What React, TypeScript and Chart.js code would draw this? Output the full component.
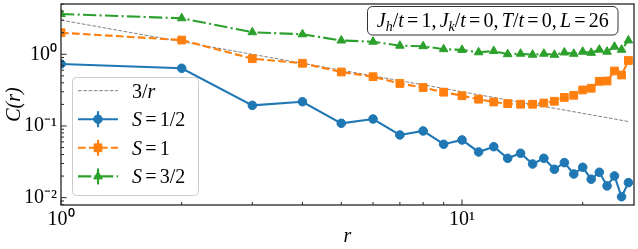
import React, { useEffect, useRef } from 'react';
import { Chart, registerables } from 'chart.js';

Chart.register(...registerables);

const FONT = "'Liberation Serif', 'Times New Roman', serif";

// distance r
const rValues = [1, 2, 3, 4, 5, 6, 7, 8, 9, 10, 11, 12, 13, 14, 15, 16, 17, 18, 19, 20, 21, 22, 23, 24, 25, 26];
// C(r) for S = 1/2
const spinHalf = [0.732, 0.638, 0.194, 0.218, 0.109, 0.125, 0.0749, 0.0852, 0.0556, 0.0638, 0.0434, 0.0514, 0.0354, 0.0416, 0.0295, 0.0354, 0.0249, 0.0308, 0.0214, 0.0265, 0.0181, 0.0226, 0.0146, 0.0201, 0.0103, 0.0162];
// C(r) for S = 1
const spinOne = [2.0, 1.58, 0.868, 0.749, 0.566, 0.487, 0.392, 0.344, 0.296, 0.264, 0.2365, 0.216, 0.205, 0.201, 0.201, 0.209, 0.221, 0.25, 0.268, 0.318, 0.336, 0.42, 0.424, 0.585, 0.514, 0.819];
// C(r) for S = 3/2
const spinThreeHalves = [3.65, 3.18, 2.03, 1.9, 1.557, 1.499, 1.318, 1.297, 1.178, 1.152, 1.066, 1.112, 1.003, 1.019, 0.987, 1.019, 0.984, 1.06, 1.016, 1.087, 1.049, 1.159, 1.087, 1.276, 1.159, 1.562];
// reference power law 3/r (straight line on log-log axes)
const refR = [1, 26];
const refC = [3, 0.1154];

const seriesLabels = ['S = 1/2', 'S = 1', 'S = 3/2'];
const refLabel = '3/r';
const annotationText = 'J_h/t = 1, J_k/t = 0, T/t = 0, L = 26';
const xTitle = 'r';
const yTitle = 'C(r)';

const xTickValues = [1, 2, 3, 4, 5, 6, 7, 8, 9, 10, 20];
const yTickValues = [0.008, 0.009, 0.01, 0.02, 0.03, 0.04, 0.05, 0.06, 0.07, 0.08, 0.09, 0.1, 0.2, 0.3, 0.4, 0.5, 0.6, 0.7, 0.8, 0.9, 1, 2, 3, 4, 5];

const X_MIN = 1;
const X_MAX = 26.85;
const Y_MIN = 0.0079;
const Y_MAX = 5.03;

const SUP: Record<string, string> = {
  '0': '\u2070', '1': '\u00B9', '2': '\u00B2', '3': '\u00B3', '4': '\u2074',
  '5': '\u2075', '6': '\u2076', '7': '\u2077', '8': '\u2078', '9': '\u2079', '-': '\u207B',
};

function isDecade(v: number) {
  const l = Math.log10(v);
  return Math.abs(l - Math.round(l)) < 1e-6;
}
function decadeLabel(v: number) {
  const e = Math.round(Math.log10(v));
  return '10' + String(e).split('').map((c) => SUP[c]).join('');
}

function drawMath(ctx: CanvasRenderingContext2D, text: string, x: number, y: number, size: number, draw = true): number {
  let cx = x;
  for (let i = 0; i < text.length; i++) {
    let c = text[i];
    if (c === ' ') {
      cx += size * 0.16;
      continue;
    }
    let sub = false;
    if (c === '_') {
      sub = true;
      c = text[++i];
    }
    const italic = /[A-Za-z]/.test(c);
    const fs = sub ? size * 0.7 : size;
    ctx.font = `${italic ? 'italic ' : ''}${fs}px ${FONT}`;
    const w = ctx.measureText(c).width;
    if (draw) ctx.fillText(c, cx, sub ? y + size * 0.22 : y);
    cx += w;
  }
  return cx - x;
}

function drawMarker(ctx: CanvasRenderingContext2D, style: string, r: number, x: number, y: number) {
  ctx.beginPath();
  if (style === 'circle') {
    ctx.arc(x, y, r, 0, Math.PI * 2);
  } else if (style === 'rect') {
    const s = Math.SQRT1_2 * r;
    ctx.rect(x - s, y - s, 2 * s, 2 * s);
  } else if (style === 'triangle') {
    ctx.moveTo(x, y - r);
    ctx.lineTo(x + r * Math.sin(Math.PI / 3), y + r / 2);
    ctx.lineTo(x - r * Math.sin(Math.PI / 3), y + r / 2);
    ctx.closePath();
  }
  ctx.fill();
  ctx.stroke();
}

const frameTicksPlugin = {
  id: 'frameTicks',
  afterDatasetsDraw(chart: any) {
    const { ctx, chartArea: a, scales } = chart;
    ctx.save();
    ctx.strokeStyle = '#262626';
    ctx.lineWidth = 1;
    const xs = scales.x;
    for (const t of xs.ticks) {
      const px = xs.getPixelForValue(t.value);
      if (px < a.left - 0.5 || px > a.right + 0.5) continue;
      const len = isDecade(t.value) ? 5.5 : 3;
      ctx.beginPath();
      ctx.moveTo(px, a.bottom);
      ctx.lineTo(px, a.bottom - len);
      ctx.stroke();
    }
    const ys = scales.y;
    for (const t of ys.ticks) {
      const py = ys.getPixelForValue(t.value);
      if (py < a.top - 0.5 || py > a.bottom + 0.5) continue;
      const len = isDecade(t.value) ? 5.5 : 3;
      ctx.beginPath();
      ctx.moveTo(a.left, py);
      ctx.lineTo(a.left + len, py);
      ctx.stroke();
    }
    ctx.lineWidth = 1.3;
    ctx.strokeRect(a.left, a.top, a.right - a.left, a.bottom - a.top);
    ctx.restore();
  },
};

function roundRect(ctx: CanvasRenderingContext2D, x: number, y: number, w: number, h: number, r: number) {
  ctx.beginPath();
  ctx.moveTo(x + r, y);
  ctx.lineTo(x + w - r, y);
  ctx.arcTo(x + w, y, x + w, y + r, r);
  ctx.lineTo(x + w, y + h - r);
  ctx.arcTo(x + w, y + h, x + w - r, y + h, r);
  ctx.lineTo(x + r, y + h);
  ctx.arcTo(x, y + h, x, y + h - r, r);
  ctx.lineTo(x, y + r);
  ctx.arcTo(x, y, x + r, y, r);
  ctx.closePath();
}

const legendPlugin = {
  id: 'mplLegend',
  afterDraw(chart: any) {
    const { ctx } = chart;
    const size = 20;
    ctx.save();
    roundRect(ctx, 72.5, 77.5, 126, 118, 4);
    ctx.fillStyle = 'rgba(255,255,255,0.8)';
    ctx.fill();
    ctx.strokeStyle = '#cccccc';
    ctx.lineWidth = 1;
    ctx.stroke();

    const rowY = [90.7, 119.2, 147.8, 176.4];
    [0, 1, 2, 3].forEach((di, k) => {
      const ds = chart.data.datasets[di];
      const y = rowY[k];
      ctx.save();
      ctx.strokeStyle = ds.borderColor;
      ctx.lineWidth = ds.borderWidth;
      ctx.setLineDash(ds.borderDash || []);
      ctx.beginPath();
      ctx.moveTo(78, y);
      ctx.lineTo(118, y);
      ctx.stroke();
      ctx.setLineDash([]);
      if (ds.pointRadius > 0) {
        ctx.beginPath();
        ctx.moveTo(98, y - 8);
        ctx.lineTo(98, y + 8);
        ctx.stroke();
        ctx.fillStyle = ds.pointBackgroundColor;
        ctx.strokeStyle = ds.pointBorderColor;
        ctx.lineWidth = 1;
        drawMarker(ctx, ds.pointStyle, ds.pointRadius, 98, y);
      }
      ctx.restore();
      ctx.fillStyle = '#000';
      ctx.textBaseline = 'alphabetic';
      drawMath(ctx, ds.label, 132, y + 6.8, size);
    });
    ctx.restore();
  },
};

const annotationPlugin = {
  id: 'mplAnnotation',
  afterDraw(chart: any) {
    const { ctx } = chart;
    const size = 20;
    ctx.save();
    roundRect(ctx, 367.5, 6.5, 250.5, 28.5, 5);
    ctx.fillStyle = '#ffffff';
    ctx.fill();
    ctx.strokeStyle = '#333333';
    ctx.lineWidth = 1;
    ctx.stroke();
    ctx.fillStyle = '#000';
    ctx.textBaseline = 'alphabetic';
    const w = drawMath(ctx, annotationText, 0, 0, size, false);
    drawMath(ctx, annotationText, 367.5 + (250.5 - w) / 2, 27, size);
    ctx.restore();
  },
};

export default function App() {
  const canvasRef = useRef<HTMLCanvasElement | null>(null);

  useEffect(() => {
    const canvas = canvasRef.current;
    if (!canvas) return;
    const toXY = (xs: number[], ys: number[]) => xs.map((x, i) => ({ x, y: ys[i] }));
    const chart = new Chart(canvas, {
      type: 'line',
      data: {
        datasets: [
          {
            label: refLabel,
            data: toXY(refR, refC),
            borderColor: '#808080',
            borderWidth: 1,
            borderDash: [3.7, 1.6],
            pointRadius: 0,
            order: 4,
          },
          {
            label: seriesLabels[0],
            data: toXY(rValues, spinHalf),
            borderColor: '#1f77b4',
            backgroundColor: '#1f77b4',
            pointBackgroundColor: '#1f77b4',
            pointBorderColor: '#1f77b4',
            borderWidth: 2.1,
            pointStyle: 'circle',
            pointRadius: 4.3,
            pointBorderWidth: 1,
            order: 3,
          },
          {
            label: seriesLabels[1],
            data: toXY(rValues, spinOne),
            borderColor: '#ff7f0e',
            backgroundColor: '#ff7f0e',
            pointBackgroundColor: '#ff7f0e',
            pointBorderColor: '#ff7f0e',
            borderWidth: 2.1,
            borderDash: [7.7, 3.3],
            pointStyle: 'rect',
            pointRadius: 5.5,
            pointBorderWidth: 1,
            order: 2,
          },
          {
            label: seriesLabels[2],
            data: toXY(rValues, spinThreeHalves),
            borderColor: '#2ca02c',
            backgroundColor: '#2ca02c',
            pointBackgroundColor: '#2ca02c',
            pointBorderColor: '#2ca02c',
            borderWidth: 2.1,
            borderDash: [13.3, 3.3, 2.1, 3.3],
            pointStyle: 'triangle',
            pointRadius: 5,
            pointBorderWidth: 1,
            order: 1,
          },
        ] as any,
      },
      options: {
        animation: false,
        responsive: true,
        maintainAspectRatio: false,
        devicePixelRatio: 1,
        layout: { padding: { top: 4, right: 4, left: 0, bottom: 0 }, autoPadding: false } as any,
        plugins: {
          legend: { display: false },
          tooltip: { enabled: false },
        },
        elements: { line: { tension: 0 } },
        scales: {
          x: {
            type: 'logarithmic',
            min: X_MIN,
            max: X_MAX,
            grid: { display: false, drawTicks: false },
            border: { display: false },
            afterBuildTicks: (s: any) => {
              s.ticks = xTickValues.map((v) => ({ value: v, major: isDecade(v) }));
            },
            afterFit: (s: any) => {
              s.height = 44;
              s.paddingLeft = 0;
              s.paddingRight = 0;
            },
            ticks: {
              autoSkip: false,
              maxRotation: 0,
              padding: 3,
              color: '#000',
              font: { family: FONT, size: 20 },
              callback: (v: any) => (isDecade(Number(v)) ? decadeLabel(Number(v)) : ''),
            },
            title: {
              display: true,
              text: xTitle,
              color: '#000',
              font: { family: FONT, size: 20, style: 'italic' },
              padding: { top: 0, bottom: 0 },
            },
          },
          y: {
            type: 'logarithmic',
            min: Y_MIN,
            max: Y_MAX,
            grid: { display: false, drawTicks: false },
            border: { display: false },
            afterBuildTicks: (s: any) => {
              s.ticks = yTickValues.map((v) => ({ value: v, major: isDecade(v) }));
            },
            afterFit: (s: any) => {
              s.width = 61;
              s.paddingTop = 0;
              s.paddingBottom = 0;
            },
            ticks: {
              autoSkip: false,
              padding: 4,
              color: '#000',
              font: { family: FONT, size: 20 },
              callback: (v: any) => (isDecade(Number(v)) ? decadeLabel(Number(v)) : ''),
            },
            title: {
              display: true,
              text: yTitle,
              color: '#000',
              font: { family: FONT, size: 20, style: 'italic' },
              padding: { top: 3, bottom: 0 },
            },
          },
        } as any,
      },
      plugins: [frameTicksPlugin, legendPlugin, annotationPlugin],
    });
    return () => chart.destroy();
  }, []);

  return (
    <div style={{ position: 'fixed', left: 0, top: 0, width: 638, height: 249, background: '#fff' }}>
      <canvas ref={canvasRef} />
    </div>
  );
}
